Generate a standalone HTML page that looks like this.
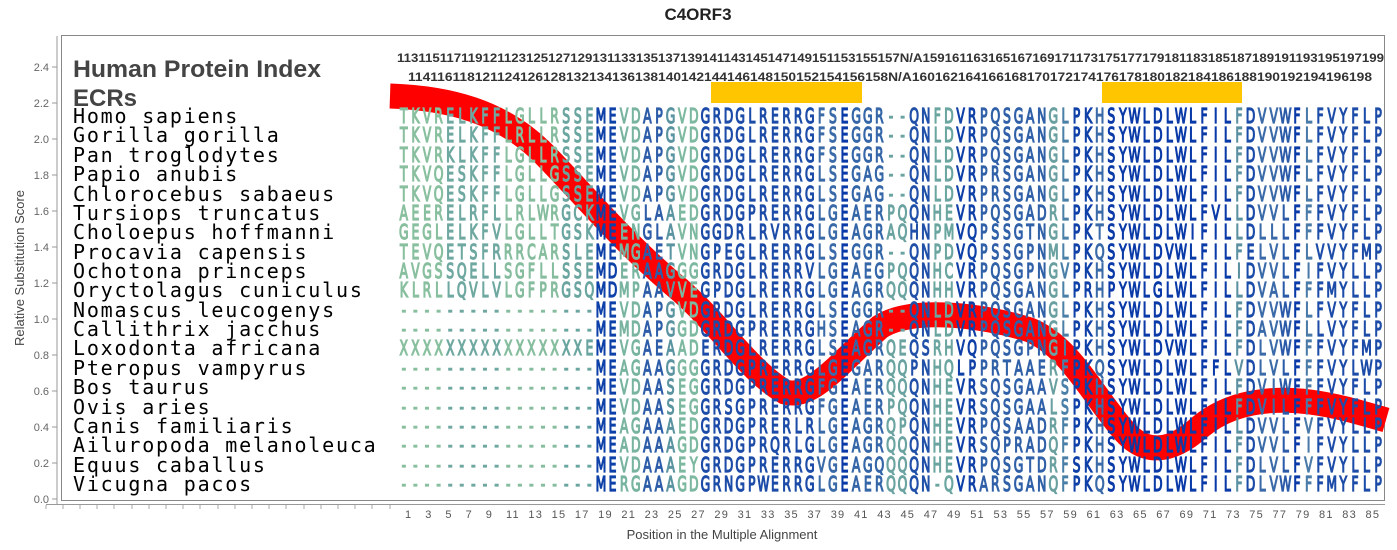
<!DOCTYPE html>
<html><head><meta charset="utf-8"><style>body{margin:0;background:#fff}svg{display:block}</style></head>
<body>
<svg width="1397" height="550" viewBox="0 0 1397 550" xmlns="http://www.w3.org/2000/svg">
<defs>
<linearGradient id="cg" gradientUnits="userSpaceOnUse" x1="0" y1="0" x2="1590.3" y2="0">
<stop offset="0%" stop-color="#88bf9e"/><stop offset="4.706%" stop-color="#88bf9e"/>
<stop offset="4.706%" stop-color="#6ea8a0"/><stop offset="10.588%" stop-color="#6ea8a0"/>
<stop offset="10.588%" stop-color="#86bd9e"/><stop offset="16.471%" stop-color="#86bd9e"/>
<stop offset="16.471%" stop-color="#6aa5a0"/><stop offset="20%" stop-color="#6aa5a0"/>
<stop offset="20%" stop-color="#0d40a8"/><stop offset="22.353%" stop-color="#0d40a8"/>
<stop offset="22.353%" stop-color="#78b4a0"/><stop offset="24.706%" stop-color="#78b4a0"/>
<stop offset="24.706%" stop-color="#2d5ca8"/><stop offset="27.059%" stop-color="#2d5ca8"/>
<stop offset="27.059%" stop-color="#5a94a0"/><stop offset="28.235%" stop-color="#5a94a0"/>
<stop offset="28.235%" stop-color="#7db9a0"/><stop offset="30.588%" stop-color="#7db9a0"/>
<stop offset="30.588%" stop-color="#1c4ca8"/><stop offset="42.353%" stop-color="#1c4ca8"/>
<stop offset="42.353%" stop-color="#3a6aa8"/><stop offset="44.706%" stop-color="#3a6aa8"/>
<stop offset="44.706%" stop-color="#0a3aa8"/><stop offset="45.882%" stop-color="#0a3aa8"/>
<stop offset="45.882%" stop-color="#3466a8"/><stop offset="49.412%" stop-color="#3466a8"/>
<stop offset="49.412%" stop-color="#6aa3a0"/><stop offset="51.765%" stop-color="#6aa3a0"/>
<stop offset="51.765%" stop-color="#2050a8"/><stop offset="54.118%" stop-color="#2050a8"/>
<stop offset="54.118%" stop-color="#6aa5a0"/><stop offset="56.471%" stop-color="#6aa5a0"/>
<stop offset="56.471%" stop-color="#0f40a8"/><stop offset="58.824%" stop-color="#0f40a8"/>
<stop offset="58.824%" stop-color="#3060a8"/><stop offset="65.882%" stop-color="#3060a8"/>
<stop offset="65.882%" stop-color="#6aa0a0"/><stop offset="67.059%" stop-color="#6aa0a0"/>
<stop offset="67.059%" stop-color="#4a80a8"/><stop offset="68.235%" stop-color="#4a80a8"/>
<stop offset="68.235%" stop-color="#0f40a8"/><stop offset="70.588%" stop-color="#0f40a8"/>
<stop offset="70.588%" stop-color="#3a6aa8"/><stop offset="71.765%" stop-color="#3a6aa8"/>
<stop offset="71.765%" stop-color="#0a3aa8"/><stop offset="84.706%" stop-color="#0a3aa8"/>
<stop offset="84.706%" stop-color="#5a90a0"/><stop offset="85.882%" stop-color="#5a90a0"/>
<stop offset="85.882%" stop-color="#1a4aa8"/><stop offset="87.059%" stop-color="#1a4aa8"/>
<stop offset="87.059%" stop-color="#3a6aa8"/><stop offset="89.412%" stop-color="#3a6aa8"/>
<stop offset="89.412%" stop-color="#2a5aa8"/><stop offset="90.588%" stop-color="#2a5aa8"/>
<stop offset="90.588%" stop-color="#0a3aa8"/><stop offset="91.765%" stop-color="#0a3aa8"/>
<stop offset="91.765%" stop-color="#4a7aa8"/><stop offset="92.941%" stop-color="#4a7aa8"/>
<stop offset="92.941%" stop-color="#1c4ca8"/><stop offset="100%" stop-color="#1c4ca8"/>
</linearGradient>
</defs>

<text x="698" y="20" text-anchor="middle" font-family="Liberation Sans, sans-serif" font-weight="bold" font-size="17" fill="#222">C4ORF3</text>

<line x1="57" y1="36" x2="57" y2="504" stroke="#999" stroke-width="1"/>
<rect x="61.5" y="35.5" width="1323" height="465" fill="none" stroke="#888" stroke-width="1"/>
<line x1="46" y1="504.5" x2="1385" y2="504.5" stroke="#999" stroke-width="1"/>
<g stroke="#999" stroke-width="1">
<line x1="52" y1="67" x2="57" y2="67"/><line x1="52" y1="103" x2="57" y2="103"/><line x1="52" y1="139" x2="57" y2="139"/><line x1="52" y1="175" x2="57" y2="175"/><line x1="52" y1="211" x2="57" y2="211"/><line x1="52" y1="247" x2="57" y2="247"/><line x1="52" y1="283" x2="57" y2="283"/><line x1="52" y1="319" x2="57" y2="319"/><line x1="52" y1="355" x2="57" y2="355"/><line x1="52" y1="391" x2="57" y2="391"/><line x1="52" y1="427" x2="57" y2="427"/><line x1="52" y1="463" x2="57" y2="463"/><line x1="52" y1="499" x2="57" y2="499"/>
</g>
<g font-family="Liberation Sans, sans-serif" font-size="11" fill="#666" text-anchor="end">
<text x="49" y="71">2.4</text><text x="49" y="107">2.2</text><text x="49" y="143">2.0</text><text x="49" y="179">1.8</text><text x="49" y="215">1.6</text><text x="49" y="251">1.4</text><text x="49" y="287">1.2</text><text x="49" y="323">1.0</text><text x="49" y="359">0.8</text><text x="49" y="395">0.6</text><text x="49" y="431">0.4</text><text x="49" y="467">0.2</text><text x="49" y="503">0.0</text>
</g>
<text transform="translate(24,268) rotate(-90)" text-anchor="middle" font-family="Liberation Sans, sans-serif" font-size="13" fill="#444">Relative Substitution Score</text>
<text x="722" y="539" text-anchor="middle" font-family="Liberation Sans, sans-serif" font-size="13" fill="#444">Position in the Multiple Alignment</text>

<g stroke="#aaa" stroke-width="1">
<line x1="46" y1="505" x2="46" y2="509"/><line x1="63" y1="505" x2="63" y2="509"/><line x1="80" y1="505" x2="80" y2="509"/><line x1="97" y1="505" x2="97" y2="509"/><line x1="114" y1="505" x2="114" y2="509"/><line x1="132" y1="505" x2="132" y2="509"/><line x1="149" y1="505" x2="149" y2="509"/><line x1="166" y1="505" x2="166" y2="509"/><line x1="183" y1="505" x2="183" y2="509"/><line x1="200" y1="505" x2="200" y2="509"/><line x1="218" y1="505" x2="218" y2="509"/><line x1="235" y1="505" x2="235" y2="509"/><line x1="252" y1="505" x2="252" y2="509"/><line x1="269" y1="505" x2="269" y2="509"/><line x1="286" y1="505" x2="286" y2="509"/><line x1="304" y1="505" x2="304" y2="509"/><line x1="321" y1="505" x2="321" y2="509"/><line x1="338" y1="505" x2="338" y2="509"/><line x1="355" y1="505" x2="355" y2="509"/><line x1="372" y1="505" x2="372" y2="509"/><line x1="390" y1="505" x2="390" y2="509"/>
</g>
<text x="405" y="518" font-family="Liberation Sans, sans-serif" font-size="11" fill="#555" textLength="974" lengthAdjust="spacing" xml:space="preserve">1   3   5   7   9   11  13  15  17  19  21  23  25  27  29  31  33  35  37  39  41  43  45  47  49  51  53  55  57  59  61  63  65  67  69  71  73  75  77  79  81  83  85</text>

<path d="M390,96 C450,98 500,112 540,150 C580,190 620,240 680,290 C720,325 750,372 785,392 C812,400 840,362 880,327 C910,307 980,314 1030,330 C1070,347 1090,392 1125,432 C1145,454 1170,454 1200,427 C1230,402 1270,397 1310,402 C1340,406 1365,414 1386,420" fill="none" stroke="#ff0000" stroke-width="25"/>

<rect x="711" y="82" width="151" height="21" fill="#ffc600"/>
<rect x="1102" y="82" width="140" height="21" fill="#ffc600"/>

<text x="397" y="62" font-family="Liberation Sans, sans-serif" font-weight="bold" font-size="12" fill="#333" textLength="987" lengthAdjust="spacingAndGlyphs">113115117119121123125127129131133135137139141143145147149151153155157N/A159161163165167169171173175177179181183185187189191193195197199</text>
<text x="408" y="81" font-family="Liberation Sans, sans-serif" font-weight="bold" font-size="12" fill="#333" textLength="964" lengthAdjust="spacingAndGlyphs">114116118121124126128132134136138140142144146148150152154156158N/A160162164166168170172174176178180182184186188190192194196198</text>

<text x="73" y="77" font-family="Liberation Sans, sans-serif" font-weight="bold" font-size="24" fill="#444" textLength="248" lengthAdjust="spacingAndGlyphs">Human Protein Index</text>
<text x="73" y="106" font-family="Liberation Sans, sans-serif" font-weight="bold" font-size="24" fill="#444">ECRs</text>

<g font-family="DejaVu Sans Mono, Liberation Mono, monospace" font-size="20" fill="#000" letter-spacing="1.8">
<text x="73" y="123">Homo sapiens</text>
<text x="73" y="142">Gorilla gorilla</text>
<text x="73" y="162">Pan troglodytes</text>
<text x="73" y="181">Papio anubis</text>
<text x="73" y="201">Chlorocebus sabaeus</text>
<text x="73" y="220">Tursiops truncatus</text>
<text x="73" y="239">Choloepus hoffmanni</text>
<text x="73" y="259">Procavia capensis</text>
<text x="73" y="278">Ochotona princeps</text>
<text x="73" y="297">Oryctolagus cuniculus</text>
<text x="73" y="317">Nomascus leucogenys</text>
<text x="73" y="336">Callithrix jacchus</text>
<text x="73" y="355">Loxodonta africana</text>
<text x="73" y="375">Pteropus vampyrus</text>
<text x="73" y="394">Bos taurus</text>
<text x="73" y="414">Ovis aries</text>
<text x="73" y="433">Canis familiaris</text>
<text x="73" y="452">Ailuropoda melanoleuca</text>
<text x="73" y="472">Equus caballus</text>
<text x="73" y="491">Vicugna pacos</text>
</g>

<g transform="translate(398,0) scale(0.62,1)" font-family="DejaVu Sans, sans-serif" font-size="20" fill="url(#cg)" stroke="url(#cg)" stroke-width="1.3" text-anchor="middle">
<text y="123" x="9.36 28.07 46.78 65.49 84.2 102.9 121.6 140.3 159.0 177.8 196.5 215.2 233.9 252.6 271.3 290.0 308.7 327.4 346.1 364.8 383.5 402.3 421.0 439.7 458.4 477.1 495.8 514.5 533.2 551.9 570.6 589.3 608.0 626.7 645.4 664.2 682.9 701.6 720.3 739.0 757.7 776.4 795.1 813.8 832.5 851.2 869.9 888.6 907.4 926.1 944.8 963.5 982.2 1000.9 1019.6 1038.3 1057.0 1075.7 1094.4 1113.1 1131.8 1150.6 1169.3 1188.0 1206.7 1225.4 1244.1 1262.8 1281.5 1300.2 1318.9 1337.6 1356.3 1375.0 1393.8 1412.5 1431.2 1449.9 1468.6 1487.3 1506.0 1524.7 1543.4 1562.1 1580.8">TKVRELKFFLGLLRSSEMEVDAPGVDGRDGLRERRGFSEGGR--QNFDVRPQSGANGLPKHSYWLDLWLFILFDVVWFLFVYFLP</text>
<text y="142" x="9.36 28.07 46.78 65.49 84.2 102.9 121.6 140.3 159.0 177.8 196.5 215.2 233.9 252.6 271.3 290.0 308.7 327.4 346.1 364.8 383.5 402.3 421.0 439.7 458.4 477.1 495.8 514.5 533.2 551.9 570.6 589.3 608.0 626.7 645.4 664.2 682.9 701.6 720.3 739.0 757.7 776.4 795.1 813.8 832.5 851.2 869.9 888.6 907.4 926.1 944.8 963.5 982.2 1000.9 1019.6 1038.3 1057.0 1075.7 1094.4 1113.1 1131.8 1150.6 1169.3 1188.0 1206.7 1225.4 1244.1 1262.8 1281.5 1300.2 1318.9 1337.6 1356.3 1375.0 1393.8 1412.5 1431.2 1449.9 1468.6 1487.3 1506.0 1524.7 1543.4 1562.1 1580.8">TKVRELKFFLRLLRSSEMEVDAPGVDGRDGLRERRGFSEGGR--QNLDVRPQSGANGLPKHSYWLDLWLFILFDVVWFLFVYFLP</text>
<text y="162" x="9.36 28.07 46.78 65.49 84.2 102.9 121.6 140.3 159.0 177.8 196.5 215.2 233.9 252.6 271.3 290.0 308.7 327.4 346.1 364.8 383.5 402.3 421.0 439.7 458.4 477.1 495.8 514.5 533.2 551.9 570.6 589.3 608.0 626.7 645.4 664.2 682.9 701.6 720.3 739.0 757.7 776.4 795.1 813.8 832.5 851.2 869.9 888.6 907.4 926.1 944.8 963.5 982.2 1000.9 1019.6 1038.3 1057.0 1075.7 1094.4 1113.1 1131.8 1150.6 1169.3 1188.0 1206.7 1225.4 1244.1 1262.8 1281.5 1300.2 1318.9 1337.6 1356.3 1375.0 1393.8 1412.5 1431.2 1449.9 1468.6 1487.3 1506.0 1524.7 1543.4 1562.1 1580.8">TKVRKLKFFLGLLRSSEMEVDAPGVDGRDGLRERRGFSEGGR--QNLDVRPQSGANGLPKHSYWLDLWLFILFDVVWFLFVYFLP</text>
<text y="181" x="9.36 28.07 46.78 65.49 84.2 102.9 121.6 140.3 159.0 177.8 196.5 215.2 233.9 252.6 271.3 290.0 308.7 327.4 346.1 364.8 383.5 402.3 421.0 439.7 458.4 477.1 495.8 514.5 533.2 551.9 570.6 589.3 608.0 626.7 645.4 664.2 682.9 701.6 720.3 739.0 757.7 776.4 795.1 813.8 832.5 851.2 869.9 888.6 907.4 926.1 944.8 963.5 982.2 1000.9 1019.6 1038.3 1057.0 1075.7 1094.4 1113.1 1131.8 1150.6 1169.3 1188.0 1206.7 1225.4 1244.1 1262.8 1281.5 1300.2 1318.9 1337.6 1356.3 1375.0 1393.8 1412.5 1431.2 1449.9 1468.6 1487.3 1506.0 1524.7 1543.4 1562.1 1580.8">TKVQESKFFLGLLGSSEMEVDAPGVDGRDGLRERRGLSEGAG--QNLDVRPRSGANGLPKHSYWLDLWLFILFDVVWFLFVYFLP</text>
<text y="201" x="9.36 28.07 46.78 65.49 84.2 102.9 121.6 140.3 159.0 177.8 196.5 215.2 233.9 252.6 271.3 290.0 308.7 327.4 346.1 364.8 383.5 402.3 421.0 439.7 458.4 477.1 495.8 514.5 533.2 551.9 570.6 589.3 608.0 626.7 645.4 664.2 682.9 701.6 720.3 739.0 757.7 776.4 795.1 813.8 832.5 851.2 869.9 888.6 907.4 926.1 944.8 963.5 982.2 1000.9 1019.6 1038.3 1057.0 1075.7 1094.4 1113.1 1131.8 1150.6 1169.3 1188.0 1206.7 1225.4 1244.1 1262.8 1281.5 1300.2 1318.9 1337.6 1356.3 1375.0 1393.8 1412.5 1431.2 1449.9 1468.6 1487.3 1506.0 1524.7 1543.4 1562.1 1580.8">TKVQESKFFLGLLGSSEMEVDAPGVDGRDGLRERRGLSEGAG--QNLDVRPRSGANGLPKHSYWLDLWLFILFDVVWFLFVYFLP</text>
<text y="220" x="9.36 28.07 46.78 65.49 84.2 102.9 121.6 140.3 159.0 177.8 196.5 215.2 233.9 252.6 271.3 290.0 308.7 327.4 346.1 364.8 383.5 402.3 421.0 439.7 458.4 477.1 495.8 514.5 533.2 551.9 570.6 589.3 608.0 626.7 645.4 664.2 682.9 701.6 720.3 739.0 757.7 776.4 795.1 813.8 832.5 851.2 869.9 888.6 907.4 926.1 944.8 963.5 982.2 1000.9 1019.6 1038.3 1057.0 1075.7 1094.4 1113.1 1131.8 1150.6 1169.3 1188.0 1206.7 1225.4 1244.1 1262.8 1281.5 1300.2 1318.9 1337.6 1356.3 1375.0 1393.8 1412.5 1431.2 1449.9 1468.6 1487.3 1506.0 1524.7 1543.4 1562.1 1580.8">AEERELRFLLRLWRGCKMEVGLAAEDGRDGPRERRGLGEAERPQQNHEVRPQSGADRLPKHSYWLDLWLFVLLDVVLFFFVYFLP</text>
<text y="239" x="9.36 28.07 46.78 65.49 84.2 102.9 121.6 140.3 159.0 177.8 196.5 215.2 233.9 252.6 271.3 290.0 308.7 327.4 346.1 364.8 383.5 402.3 421.0 439.7 458.4 477.1 495.8 514.5 533.2 551.9 570.6 589.3 608.0 626.7 645.4 664.2 682.9 701.6 720.3 739.0 757.7 776.4 795.1 813.8 832.5 851.2 869.9 888.6 907.4 926.1 944.8 963.5 982.2 1000.9 1019.6 1038.3 1057.0 1075.7 1094.4 1113.1 1131.8 1150.6 1169.3 1188.0 1206.7 1225.4 1244.1 1262.8 1281.5 1300.2 1318.9 1337.6 1356.3 1375.0 1393.8 1412.5 1431.2 1449.9 1468.6 1487.3 1506.0 1524.7 1543.4 1562.1 1580.8">GEGLELKFVLGLLTGSKMEENGLAVNGGDRLRVRRGLGEAGRAQHNPMVQPSSGTNGLPKTSYWLDLWIFILLDLLLFFFVYFLP</text>
<text y="259" x="9.36 28.07 46.78 65.49 84.2 102.9 121.6 140.3 159.0 177.8 196.5 215.2 233.9 252.6 271.3 290.0 308.7 327.4 346.1 364.8 383.5 402.3 421.0 439.7 458.4 477.1 495.8 514.5 533.2 551.9 570.6 589.3 608.0 626.7 645.4 664.2 682.9 701.6 720.3 739.0 757.7 776.4 795.1 813.8 832.5 851.2 869.9 888.6 907.4 926.1 944.8 963.5 982.2 1000.9 1019.6 1038.3 1057.0 1075.7 1094.4 1113.1 1131.8 1150.6 1169.3 1188.0 1206.7 1225.4 1244.1 1262.8 1281.5 1300.2 1318.9 1337.6 1356.3 1375.0 1393.8 1412.5 1431.2 1449.9 1468.6 1487.3 1506.0 1524.7 1543.4 1562.1 1580.8">TEVQETSFRRRCARSLEMEMGAETVNGPEGLRERRGLSEGGR--QNPDVQPSSGPNMLPKQSYWLDVWLFILFELVLFLVVYFMP</text>
<text y="278" x="9.36 28.07 46.78 65.49 84.2 102.9 121.6 140.3 159.0 177.8 196.5 215.2 233.9 252.6 271.3 290.0 308.7 327.4 346.1 364.8 383.5 402.3 421.0 439.7 458.4 477.1 495.8 514.5 533.2 551.9 570.6 589.3 608.0 626.7 645.4 664.2 682.9 701.6 720.3 739.0 757.7 776.4 795.1 813.8 832.5 851.2 869.9 888.6 907.4 926.1 944.8 963.5 982.2 1000.9 1019.6 1038.3 1057.0 1075.7 1094.4 1113.1 1131.8 1150.6 1169.3 1188.0 1206.7 1225.4 1244.1 1262.8 1281.5 1300.2 1318.9 1337.6 1356.3 1375.0 1393.8 1412.5 1431.2 1449.9 1468.6 1487.3 1506.0 1524.7 1543.4 1562.1 1580.8">AVGSSQELLSGFLLSSEMDERAAGGGGRDGLRERRVLGEAEGPQQNHCVRPQSGPNGVPKHSYWLDLWLFILIDVVLFIFVYLLP</text>
<text y="297" x="9.36 28.07 46.78 65.49 84.2 102.9 121.6 140.3 159.0 177.8 196.5 215.2 233.9 252.6 271.3 290.0 308.7 327.4 346.1 364.8 383.5 402.3 421.0 439.7 458.4 477.1 495.8 514.5 533.2 551.9 570.6 589.3 608.0 626.7 645.4 664.2 682.9 701.6 720.3 739.0 757.7 776.4 795.1 813.8 832.5 851.2 869.9 888.6 907.4 926.1 944.8 963.5 982.2 1000.9 1019.6 1038.3 1057.0 1075.7 1094.4 1113.1 1131.8 1150.6 1169.3 1188.0 1206.7 1225.4 1244.1 1262.8 1281.5 1300.2 1318.9 1337.6 1356.3 1375.0 1393.8 1412.5 1431.2 1449.9 1468.6 1487.3 1506.0 1524.7 1543.4 1562.1 1580.8">KLRLLQVLVLGFPRGSQMDMPAAVVEGPDGLRERRGLGEAGRQQQNHHVRPQSGANGLPRHPYWLGLWLFILLDVALFFFMYLLP</text>
<text y="317" x="9.36 28.07 46.78 65.49 84.2 102.9 121.6 140.3 159.0 177.8 196.5 215.2 233.9 252.6 271.3 290.0 308.7 327.4 346.1 364.8 383.5 402.3 421.0 439.7 458.4 477.1 495.8 514.5 533.2 551.9 570.6 589.3 608.0 626.7 645.4 664.2 682.9 701.6 720.3 739.0 757.7 776.4 795.1 813.8 832.5 851.2 869.9 888.6 907.4 926.1 944.8 963.5 982.2 1000.9 1019.6 1038.3 1057.0 1075.7 1094.4 1113.1 1131.8 1150.6 1169.3 1188.0 1206.7 1225.4 1244.1 1262.8 1281.5 1300.2 1318.9 1337.6 1356.3 1375.0 1393.8 1412.5 1431.2 1449.9 1468.6 1487.3 1506.0 1524.7 1543.4 1562.1 1580.8">-----------------MEVDAPGVDGRDGLRERRGLSEGGR--QNLDVRPQSGANGLPKHSYWLDLWLFILFDVVWFLFVYFLP</text>
<text y="336" x="9.36 28.07 46.78 65.49 84.2 102.9 121.6 140.3 159.0 177.8 196.5 215.2 233.9 252.6 271.3 290.0 308.7 327.4 346.1 364.8 383.5 402.3 421.0 439.7 458.4 477.1 495.8 514.5 533.2 551.9 570.6 589.3 608.0 626.7 645.4 664.2 682.9 701.6 720.3 739.0 757.7 776.4 795.1 813.8 832.5 851.2 869.9 888.6 907.4 926.1 944.8 963.5 982.2 1000.9 1019.6 1038.3 1057.0 1075.7 1094.4 1113.1 1131.8 1150.6 1169.3 1188.0 1206.7 1225.4 1244.1 1262.8 1281.5 1300.2 1318.9 1337.6 1356.3 1375.0 1393.8 1412.5 1431.2 1449.9 1468.6 1487.3 1506.0 1524.7 1543.4 1562.1 1580.8">-----------------MEMDAPGGDGRDGPRERRGHSEAGR--QNLDVRPQSGANGLPKHSYWLDLWLFILFDAVWFLLVYFLP</text>
<text y="355" x="9.36 28.07 46.78 65.49 84.2 102.9 121.6 140.3 159.0 177.8 196.5 215.2 233.9 252.6 271.3 290.0 308.7 327.4 346.1 364.8 383.5 402.3 421.0 439.7 458.4 477.1 495.8 514.5 533.2 551.9 570.6 589.3 608.0 626.7 645.4 664.2 682.9 701.6 720.3 739.0 757.7 776.4 795.1 813.8 832.5 851.2 869.9 888.6 907.4 926.1 944.8 963.5 982.2 1000.9 1019.6 1038.3 1057.0 1075.7 1094.4 1113.1 1131.8 1150.6 1169.3 1188.0 1206.7 1225.4 1244.1 1262.8 1281.5 1300.2 1318.9 1337.6 1356.3 1375.0 1393.8 1412.5 1431.2 1449.9 1468.6 1487.3 1506.0 1524.7 1543.4 1562.1 1580.8">XXXXXXXXXXXXXXXXEMEVGAEAADERDGLRERRGLSEAGRQEQSRHVQPQSGPNGIPKHSYWLDVWLFILFDLVWFFFVYFMP</text>
<text y="375" x="9.36 28.07 46.78 65.49 84.2 102.9 121.6 140.3 159.0 177.8 196.5 215.2 233.9 252.6 271.3 290.0 308.7 327.4 346.1 364.8 383.5 402.3 421.0 439.7 458.4 477.1 495.8 514.5 533.2 551.9 570.6 589.3 608.0 626.7 645.4 664.2 682.9 701.6 720.3 739.0 757.7 776.4 795.1 813.8 832.5 851.2 869.9 888.6 907.4 926.1 944.8 963.5 982.2 1000.9 1019.6 1038.3 1057.0 1075.7 1094.4 1113.1 1131.8 1150.6 1169.3 1188.0 1206.7 1225.4 1244.1 1262.8 1281.5 1300.2 1318.9 1337.6 1356.3 1375.0 1393.8 1412.5 1431.2 1449.9 1468.6 1487.3 1506.0 1524.7 1543.4 1562.1 1580.8">-----------------MEAGAAGGGGRDGPRERRGLGEGARQQPNHQLPPRTAAERFPKQSYWLDLWLFFLVDLVLFFFVYLWP</text>
<text y="394" x="9.36 28.07 46.78 65.49 84.2 102.9 121.6 140.3 159.0 177.8 196.5 215.2 233.9 252.6 271.3 290.0 308.7 327.4 346.1 364.8 383.5 402.3 421.0 439.7 458.4 477.1 495.8 514.5 533.2 551.9 570.6 589.3 608.0 626.7 645.4 664.2 682.9 701.6 720.3 739.0 757.7 776.4 795.1 813.8 832.5 851.2 869.9 888.6 907.4 926.1 944.8 963.5 982.2 1000.9 1019.6 1038.3 1057.0 1075.7 1094.4 1113.1 1131.8 1150.6 1169.3 1188.0 1206.7 1225.4 1244.1 1262.8 1281.5 1300.2 1318.9 1337.6 1356.3 1375.0 1393.8 1412.5 1431.2 1449.9 1468.6 1487.3 1506.0 1524.7 1543.4 1562.1 1580.8">-----------------MEVDAASEGGRDGPRERRGFGEAERQQQNHEVRSQSGAAVSPKHSYWLDLWLFILFDVIWFFFVYFLP</text>
<text y="414" x="9.36 28.07 46.78 65.49 84.2 102.9 121.6 140.3 159.0 177.8 196.5 215.2 233.9 252.6 271.3 290.0 308.7 327.4 346.1 364.8 383.5 402.3 421.0 439.7 458.4 477.1 495.8 514.5 533.2 551.9 570.6 589.3 608.0 626.7 645.4 664.2 682.9 701.6 720.3 739.0 757.7 776.4 795.1 813.8 832.5 851.2 869.9 888.6 907.4 926.1 944.8 963.5 982.2 1000.9 1019.6 1038.3 1057.0 1075.7 1094.4 1113.1 1131.8 1150.6 1169.3 1188.0 1206.7 1225.4 1244.1 1262.8 1281.5 1300.2 1318.9 1337.6 1356.3 1375.0 1393.8 1412.5 1431.2 1449.9 1468.6 1487.3 1506.0 1524.7 1543.4 1562.1 1580.8">-----------------MEVDAASEGGRSGPRERRGFGEAERPQQNHEVRSQSGAALSPKHSYWLDLWLFILFDVILFFFVYFLP</text>
<text y="433" x="9.36 28.07 46.78 65.49 84.2 102.9 121.6 140.3 159.0 177.8 196.5 215.2 233.9 252.6 271.3 290.0 308.7 327.4 346.1 364.8 383.5 402.3 421.0 439.7 458.4 477.1 495.8 514.5 533.2 551.9 570.6 589.3 608.0 626.7 645.4 664.2 682.9 701.6 720.3 739.0 757.7 776.4 795.1 813.8 832.5 851.2 869.9 888.6 907.4 926.1 944.8 963.5 982.2 1000.9 1019.6 1038.3 1057.0 1075.7 1094.4 1113.1 1131.8 1150.6 1169.3 1188.0 1206.7 1225.4 1244.1 1262.8 1281.5 1300.2 1318.9 1337.6 1356.3 1375.0 1393.8 1412.5 1431.2 1449.9 1468.6 1487.3 1506.0 1524.7 1543.4 1562.1 1580.8">-----------------MEAGAAAEDGRDGPRERLRLGEAGRQPQNHEVRPQSAADRFPKHSYWLDLWLFILLDVVLFVFVYLLP</text>
<text y="452" x="9.36 28.07 46.78 65.49 84.2 102.9 121.6 140.3 159.0 177.8 196.5 215.2 233.9 252.6 271.3 290.0 308.7 327.4 346.1 364.8 383.5 402.3 421.0 439.7 458.4 477.1 495.8 514.5 533.2 551.9 570.6 589.3 608.0 626.7 645.4 664.2 682.9 701.6 720.3 739.0 757.7 776.4 795.1 813.8 832.5 851.2 869.9 888.6 907.4 926.1 944.8 963.5 982.2 1000.9 1019.6 1038.3 1057.0 1075.7 1094.4 1113.1 1131.8 1150.6 1169.3 1188.0 1206.7 1225.4 1244.1 1262.8 1281.5 1300.2 1318.9 1337.6 1356.3 1375.0 1393.8 1412.5 1431.2 1449.9 1468.6 1487.3 1506.0 1524.7 1543.4 1562.1 1580.8">-----------------MEADAAAGDGRDGPRQRLGLGEAGRQQQNHEVRSQPRADQFPKHSYWLDLWLFILFDVVLFIFVYLLP</text>
<text y="472" x="9.36 28.07 46.78 65.49 84.2 102.9 121.6 140.3 159.0 177.8 196.5 215.2 233.9 252.6 271.3 290.0 308.7 327.4 346.1 364.8 383.5 402.3 421.0 439.7 458.4 477.1 495.8 514.5 533.2 551.9 570.6 589.3 608.0 626.7 645.4 664.2 682.9 701.6 720.3 739.0 757.7 776.4 795.1 813.8 832.5 851.2 869.9 888.6 907.4 926.1 944.8 963.5 982.2 1000.9 1019.6 1038.3 1057.0 1075.7 1094.4 1113.1 1131.8 1150.6 1169.3 1188.0 1206.7 1225.4 1244.1 1262.8 1281.5 1300.2 1318.9 1337.6 1356.3 1375.0 1393.8 1412.5 1431.2 1449.9 1468.6 1487.3 1506.0 1524.7 1543.4 1562.1 1580.8">-----------------MEVDAAAEYGRDGPRERRGVGEAGQQQQNHEVRPQSGTDRFSKHSYWLDLWLFILFDLVLFVFVYLLP</text>
<text y="491" x="9.36 28.07 46.78 65.49 84.2 102.9 121.6 140.3 159.0 177.8 196.5 215.2 233.9 252.6 271.3 290.0 308.7 327.4 346.1 364.8 383.5 402.3 421.0 439.7 458.4 477.1 495.8 514.5 533.2 551.9 570.6 589.3 608.0 626.7 645.4 664.2 682.9 701.6 720.3 739.0 757.7 776.4 795.1 813.8 832.5 851.2 869.9 888.6 907.4 926.1 944.8 963.5 982.2 1000.9 1019.6 1038.3 1057.0 1075.7 1094.4 1113.1 1131.8 1150.6 1169.3 1188.0 1206.7 1225.4 1244.1 1262.8 1281.5 1300.2 1318.9 1337.6 1356.3 1375.0 1393.8 1412.5 1431.2 1449.9 1468.6 1487.3 1506.0 1524.7 1543.4 1562.1 1580.8">-----------------MERGAAAGDGRNGPWERRGLGEAERQQQN-QVRARSGANQFPKQSYWLDLWLFILFDLVWFFFMYFLP</text>
</g>
</svg>
</body></html>
